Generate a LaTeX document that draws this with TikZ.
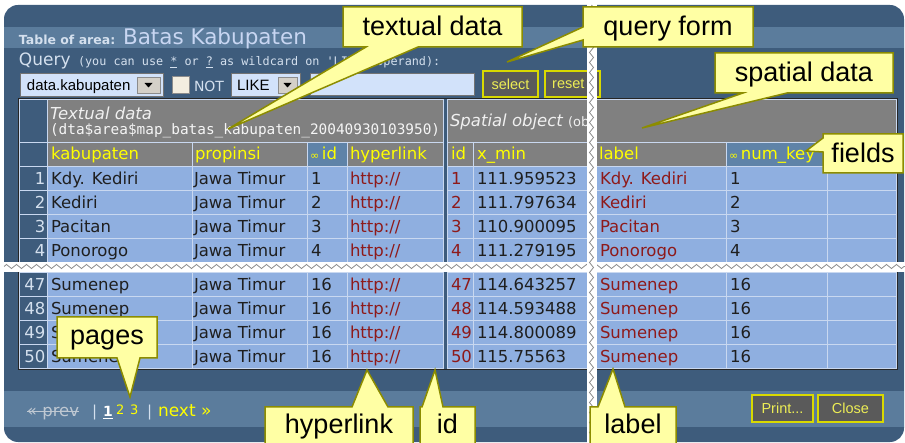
\documentclass[tikz,border=0pt]{standalone}
\usepackage{fontspec}
\setmainfont{DejaVu Sans}
\newfontfamily\monofont{DejaVu Sans Mono}
\newfontfamily\arialfont{Liberation Sans}
\usetikzlibrary{decorations.pathmorphing}

\definecolor{panel}{HTML}{3E5C7C}
\definecolor{band}{HTML}{5B7C9C}
\definecolor{hdr}{HTML}{808080}
\definecolor{keyhdr}{HTML}{5F83A8}
\definecolor{cellc}{HTML}{8FAFE0}
\definecolor{gridc}{HTML}{C9D8F0}
\definecolor{linkred}{HTML}{8E1A1A}
\definecolor{hdrtext}{HTML}{FFFF00}
\definecolor{pale}{HTML}{D4E0EE}
\definecolor{titleblue}{HTML}{C8D6F2}
\definecolor{inputc}{HTML}{D2E2FA}
\definecolor{dropc}{HTML}{D4D0C8}
\definecolor{checkc}{HTML}{F4EEE0}
\definecolor{btnc}{HTML}{5A5A5A}
\definecolor{btntext}{HTML}{EDED55}
\definecolor{calloutfill}{HTML}{FFFFA4}
\definecolor{calloutline}{HTML}{8C8C00}
\definecolor{tear}{HTML}{8C8C8C}

\begin{document}
\begin{tikzpicture}[x=1pt, y=-1pt,
  lbl/.style={anchor=base west, inner sep=0pt, outer sep=0pt},
  ctr/.style={anchor=base, inner sep=0pt, outer sep=0pt},
  datafont/.style={font=\fontsize{16.5}{18}\selectfont},
  cell/.style={lbl, datafont, text=black!88},
  redcell/.style={lbl, datafont, text=linkred},
  headcell/.style={lbl, datafont, text=hdrtext},
  rownum/.style={anchor=base east, inner sep=0pt, datafont, text=pale},
  callout/.style={fill=calloutfill, draw=calloutline, line width=1.5pt, line join=miter},
  calltext/.style={ctr, font=\arialfont\fontsize{27}{30}\selectfont, text=black},
  button/.style={fill=btnc, draw=hdrtext!85!black, line width=1.3pt},
  buttontext/.style={anchor=center, inner sep=0pt, font=\arialfont\fontsize{14.5}{16}\selectfont, text=btntext},
  combo/.style={fill=inputc, draw=black!55, line width=0.8pt},
  dropbtn/.style={fill=dropc, draw=black!45, line width=0.6pt},
  tearline/.style={draw=tear, line width=0.8pt, decorate, decoration={zigzag, segment length=10pt, amplitude=2pt}},
]
\useasboundingbox (0,0) rectangle (905,443);

% ---------- window frame ----------
\fill[panel, rounded corners=14pt] (4,5) rectangle (904,442);
\fill[band] (4,27) rectangle (904,48);
\fill[band] (4,391) rectangle (904,427);

% ---------- title and query form ----------
\node[lbl, font=\bfseries\fontsize{12.5}{14}\selectfont, text=pale] (titlekey) at (19,45) {Table of area:};
\node[lbl, font=\fontsize{21.5}{23}\selectfont, text=titleblue] (titlename) at (123,45) {Batas Kabupaten};
\node[lbl, font=\fontsize{17}{18}\selectfont, text=pale] (qword) at (19,66) {Query};
\node[lbl, font=\monofont\fontsize{11.8}{12}\selectfont, text=pale] (qhint) at (78,66)
  {(you can use \underline{*} or \underline{?} as wildcard on \textquotesingle LIKE\textquotesingle\ operand):};

\draw[combo] (20.5,73.5) rectangle (163.5,96.5);
\node[lbl, font=\arialfont\fontsize{15}{16}\selectfont] (fieldsel) at (27,91) {data.kabupaten};
\draw[dropbtn] (137,77) rectangle (160,93);
\fill (144.5,83) -- (152.5,83) -- (148.5,87.5) -- cycle;

\draw[fill=checkc, draw=black!45, line width=0.8pt] (172,76) rectangle (189,93);
\node[lbl, font=\fontsize{14}{15}\selectfont, text=pale] (notlbl) at (194,92) {NOT};

\draw[combo] (231.5,73.5) rectangle (300.5,96.5);
\node[lbl, font=\arialfont\fontsize{15}{16}\selectfont] (opsel) at (237,91) {LIKE};
\draw[dropbtn] (278,77) rectangle (297,93);
\fill (283.5,83) -- (291.5,83) -- (287.5,87.5) -- cycle;

\draw[combo] (310.5,73.5) rectangle (474.5,95.5);

\draw[button] (483,71) rectangle (538,97);
\node[buttontext] (selectbtn) at (510.5,84) {select};
\draw[button] (545,71) rectangle (600,97);
\node[buttontext, anchor=west] (resetbtn) at (552,84) {reset};

% ---------- table frame and grid ----------
\fill[black!85] (18,98) rectangle (898,370);
\fill[gridc] (19,99) rectangle (897,369);

% header row 1
\fill[panel] (20,100) rectangle (47,142);
\fill[hdr] (48,100) rectangle (443,142);
\fill[hdr] (448,100) rectangle (587,142);
\fill[hdr] (596,100) rectangle (896,142);
% header row 2
\fill[panel] (20,143) rectangle (47,166);
\foreach \ca/\cb/\cc in {48/192/hdr,193/307/hdr,308/347/keyhdr,348/443/hdr,448/473/hdr,
                         474/587/hdr,596/726/hdr,727/827/keyhdr,828/896/hdr}
  \fill[\cc] (\ca,143) rectangle (\cb,166);

% data rows
\foreach \ry/\rn/\rk/\rx/\rv [count=\ri] in {
    167/1/Kdy. Kediri/111.959523/1,
    191/2/Kediri/111.797634/2,
    215/3/Pacitan/110.900095/3,
    239/4/Ponorogo/111.279195/4,
    273/47/Sumenep/114.643257/16,
    297/48/Sumenep/114.593488/16,
    321/49/Sumenep/114.800089/16,
    345/50/Sumenep/115.75563/16}{
  \fill[panel] (20,\ry) rectangle (47,\ry+23);
  \foreach \ca/\cb in {48/192,193/307,308/347,348/443,448/473,474/587,596/726,727/827,828/896}
    \fill[cellc] (\ca,\ry) rectangle (\cb,\ry+23);
  \node[rownum] (n\ri) at (45.5,\ry+18) {\rn};
  \node[cell] (k\ri) at (51,\ry+18) {\rk};
  \node[cell] (p\ri) at (194,\ry+18) {Jawa Timur};
  \node[cell] (i\ri) at (311,\ry+18) {\rv};
  \node[redcell] (h\ri) at (350,\ry+18) {http://};
  \node[redcell] (s\ri) at (451,\ry+18) {\rn};
  \node[cell] (x\ri) at (477,\ry+18) {\rx};
  \node[redcell] (l\ri) at (600,\ry+18) {\rk};
  \node[cell] (v\ri) at (730,\ry+18) {\rv};
}

% divider between the textual and the spatial columns
\fill[panel] (444.2,99) rectangle (446.8,369);

% header texts
\node[lbl, font=\itshape\fontsize{16.5}{18}\selectfont, text=white!88!gray] (textualhead) at (50,120) {Textual data};
\node[lbl, font=\monofont\fontsize{14.4}{15}\selectfont, text=white!92!gray] (tablename) at (50,135)
  {(dta\$area\$map\_batas\_kabupaten\_20040930103950)};
\node[lbl, font=\itshape\fontsize{16.5}{18}\selectfont, text=white!88!gray] (spatialhead) at (450,127)
  {Spatial object {\upshape\fontsize{13}{14}\selectfont (ob}};

\node[headcell] (hkab) at (51,160) {kabupaten};
\node[headcell] (hprop) at (195,160) {propinsi};
\node[headcell] (hid) at (310,160) {{\fontsize{11}{12}\selectfont ∞}\,id};
\node[headcell] (hlink) at (350,160) {hyperlink};
\node[headcell] (hsid) at (451,160) {id};
\node[headcell] (hxmin) at (477,160) {x\_min};
\node[headcell] (hlabel) at (599,160) {label};
\node[headcell] (hkey) at (729,160) {{\fontsize{11}{12}\selectfont ∞}\,num\_key};

% ---------- torn edges ----------
\fill[white] (4,262) rectangle (905,272.5);
\draw[tearline] (4,266.5) -- (905,266.5);
\fill[white] (587,0) rectangle (596.5,443);
\draw[tearline] (591.5,5) -- (591.5,443);

% ---------- paging and buttons ----------
\node[lbl, font=\fontsize{16.5}{17}\selectfont, text=pale!75!gray] (prev) at (27,417) {« prev};
\draw[pale!75!gray, line width=0.9pt] ([yshift=5.5pt]prev.base west) -- ([yshift=5.5pt]prev.base east);
\node[lbl, font=\fontsize{15}{16}\selectfont, text=pale] (bar1) at (92,417) {|};
\node[lbl, font=\bfseries\fontsize{14}{16}\selectfont, text=white] (pg1) at (103,417) {\underline{1}};
\node[lbl, font=\fontsize{13}{16}\selectfont, text=hdrtext] (pg2) at (116,415) {2};
\node[lbl, font=\fontsize{13}{16}\selectfont, text=hdrtext] (pg3) at (130,415) {3};
\node[lbl, font=\fontsize{15}{16}\selectfont, text=pale] (bar2) at (147,417) {|};
\node[lbl, font=\fontsize{17}{18}\selectfont, text=hdrtext] (next) at (158,417) {next »};

\draw[button] (752,395) rectangle (813,422);
\node[buttontext] (printbtn) at (782.5,408.5) {Print...};
\draw[button] (818,395) rectangle (883,422);
\node[buttontext] (closebtn) at (850.5,408.5) {Close};

% ---------- callouts ----------
\coordinate (tipTextual) at (228,129);
\draw[callout] (343,7) -- (522,7) -- (522,47) -- (418,47) -- (tipTextual) -- (366,47) -- (343,47) -- cycle;
\node[calltext] (cTextual) at (432.5,36) {textual data};

\coordinate (tipQuery) at (507,62);
\draw[callout] (583,7) -- (753,7) -- (753,47) -- (583,47) -- (583,40) -- (tipQuery) -- (583,27) -- cycle;
\node[calltext] (cQuery) at (668,36) {query form};

\coordinate (tipSpatial) at (642,128);
\draw[callout] (715,53) -- (893,53) -- (893,93) -- (787,93) -- (tipSpatial) -- (743,93) -- (715,93) -- cycle;
\node[calltext] (cSpatial) at (804,82) {spatial data};

\coordinate (tipFields) at (806,151);
\draw[callout] (823,134) -- (903,134) -- (903,173) -- (823,173) -- (823,152) -- (tipFields) -- (823,138) -- cycle;
\node[calltext] (cFields) at (863,163) {fields};

\coordinate (tipPages) at (130,397);
\draw[callout] (57,317) -- (157,317) -- (157,358) -- (140,358) -- (tipPages) -- (117,358) -- (57,358) -- cycle;
\node[calltext] (cPages) at (107,345) {pages};

\coordinate (tipLink) at (367,370);
\draw[callout] (265,448) -- (265,407) -- (352,407) -- (tipLink) -- (388,407) -- (413,407) -- (413,448) -- cycle;
\node[calltext] (cLink) at (339,434) {hyperlink};

\coordinate (tipId) at (435,370);
\draw[callout] (420,448) -- (420,407) -- (422,407) -- (tipId) -- (443,407) -- (475,407) -- (475,448) -- cycle;
\node[calltext] (cId) at (447.5,434) {id};

\coordinate (tipLabel) at (613,369);
\draw[callout] (590,448) -- (590,407) -- (598,407) -- (tipLabel) -- (625,407) -- (676,407) -- (676,448) -- cycle;
\node[calltext] (cLabel) at (633,434) {label};
\end{tikzpicture}
\end{document}
